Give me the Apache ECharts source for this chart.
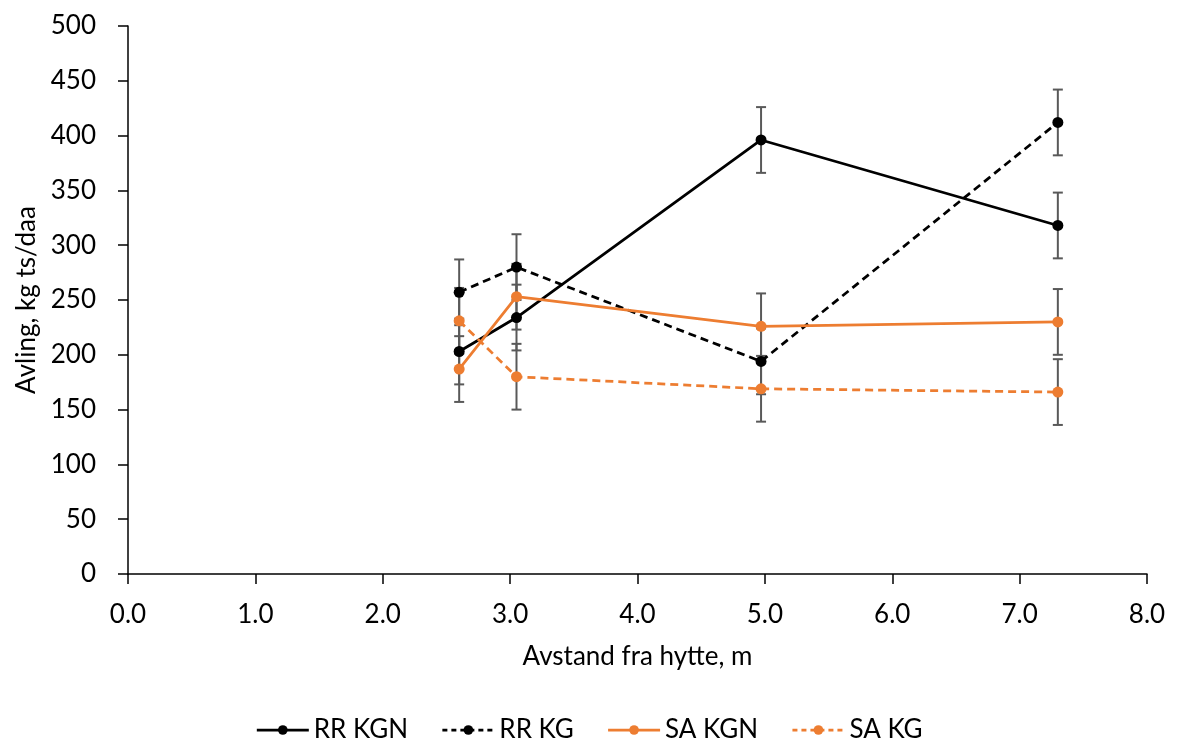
<!DOCTYPE html>
<html><head><meta charset="utf-8">
<script src="https://cdn.jsdelivr.net/npm/echarts@6/dist/echarts.min.js"></script>
<style>html,body{margin:0;padding:0;background:#fff}#c{width:1178px;height:745px}</style>
</head><body><div id="c"></div>
<script>
const xValues = [2.6, 3.05, 4.97, 7.3];
const rrKGN = [203, 234, 396, 318];
const rrKG = [257, 280, 194, 412];
const saKGN = [187, 253, 226, 230];
const saKG = [231, 180, 169, 166];
const errRRKGN = [30, 30, 30, 30];
const errRRKG = [30, 30, 30, 30];
const errSAKGN = [30, 30, 30, 30];
const errSAKG = [30, 30, 30, 30];
const seriesNames = ['RR KGN', 'RR KG', 'SA KGN', 'SA KG'];

const FONT = 'Lato';
const BLACK = '#000000';
const ORANGE = '#ED7D31';

function pts(vals){ return xValues.map((x,i)=>[x, vals[i]]); }
function errData(vals, errs){ return xValues.map((x,i)=>[x, vals[i]-errs[i], vals[i]+errs[i]]); }

function errSeries(vals, errs){
  return {
    type: 'custom', silent: true, z: 1,
    data: errData(vals, errs),
    renderItem: function(params, api){
      const lo = api.coord([api.value(0), api.value(1)]);
      const hi = api.coord([api.value(0), api.value(2)]);
      const w = 5;
      const st = {stroke: '#595959', lineWidth: 2};
      return {type: 'group', children: [
        {type:'line', shape:{x1:lo[0], y1:lo[1], x2:hi[0], y2:hi[1]}, style: st},
        {type:'line', shape:{x1:lo[0]-w, y1:lo[1], x2:lo[0]+w, y2:lo[1]}, style: st},
        {type:'line', shape:{x1:hi[0]-w, y1:hi[1], x2:hi[0]+w, y2:hi[1]}, style: st}
      ]};
    }
  };
}

function lineSeries(name, vals, color, dashed){
  return {
    name: name, type: 'line', z: 3, data: pts(vals),
    symbol: 'circle', symbolSize: 11,
    lineStyle: {color: color, width: 2.75, type: dashed ? [8,5] : 'solid'},
    itemStyle: {color: color}
  };
}

const chart = echarts.init(document.getElementById('c'));
chart.setOption({
  animation: false,
  backgroundColor: '#fff',
  textStyle: {fontFamily: FONT},
  grid: {left: 128, right: 31, top: 26, bottom: 171, containLabel: false},
  legend: {
    top: 712, left: 'center', itemWidth: 52, itemHeight: 12, itemGap: 33,
    textStyle: {fontFamily: FONT, fontSize: 26, color: '#000', padding: [0,0,0,0]},
    data: seriesNames.map((n, i) => ({
      name: n,
      lineStyle: {width: 2.75, type: (i % 2 === 1) ? [5, 4] : 'solid'}
    }))
  },
  xAxis: {
    type: 'value', min: 0, max: 8, interval: 1,
    name: 'Avstand fra hytte, m', nameLocation: 'middle', nameGap: 70,
    nameTextStyle: {fontFamily: FONT, fontSize: 26, color: '#000'},
    axisLine: {lineStyle: {color: '#000', width: 1.5}},
    axisTick: {show: true, inside: false, length: 10, lineStyle: {color: '#000', width: 1.5}},
    axisLabel: {fontFamily: FONT, fontSize: 26, color: '#000', margin: 28, formatter: v => v.toFixed(1)},
    splitLine: {show: false}
  },
  yAxis: {
    type: 'value', min: 0, max: 500, interval: 50,
    name: 'Avling, kg ts/daa', nameLocation: 'middle', nameGap: 88, nameRotate: 90,
    nameTextStyle: {fontFamily: FONT, fontSize: 26, color: '#000'},
    axisLine: {show: true, lineStyle: {color: '#000', width: 1.5}},
    axisTick: {show: true, length: 10, lineStyle: {color: '#000', width: 1.5}},
    axisLabel: {fontFamily: FONT, fontSize: 26, color: '#000', margin: 32},
    splitLine: {show: false}
  },
  series: [
    errSeries(rrKGN, errRRKGN),
    errSeries(rrKG, errRRKG),
    errSeries(saKGN, errSAKGN),
    errSeries(saKG, errSAKG),
    lineSeries(seriesNames[0], rrKGN, BLACK, false),
    lineSeries(seriesNames[1], rrKG, BLACK, true),
    lineSeries(seriesNames[2], saKGN, ORANGE, false),
    lineSeries(seriesNames[3], saKG, ORANGE, true)
  ]
});
</script></body></html>
